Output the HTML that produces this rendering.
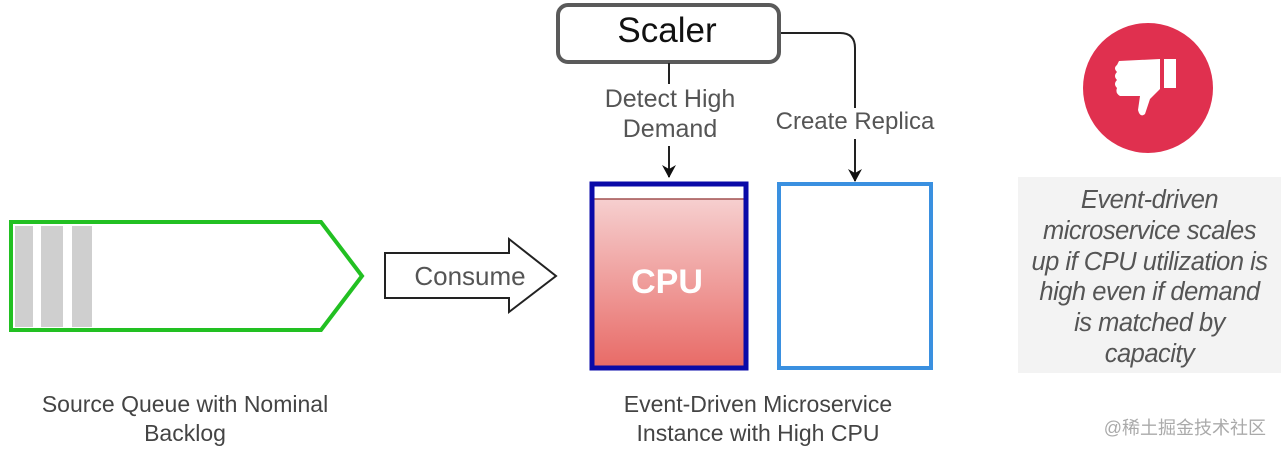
<!DOCTYPE html>
<html><head><meta charset="utf-8"><style>
body{margin:0;width:1281px;height:452px;background:#fff;overflow:hidden;position:relative;font-family:"Liberation Sans",sans-serif}
.t{position:absolute;text-align:center;color:#444;white-space:nowrap}
</style></head><body>
<svg width="1281" height="452" style="position:absolute;left:0;top:0">
<defs>
<linearGradient id="g" x1="0" y1="0" x2="0" y2="1"><stop offset="0" stop-color="#f6cfcf"/><stop offset="1" stop-color="#e86a66"/></linearGradient>
<marker id="a" markerWidth="16" markerHeight="16" refX="12" refY="7" orient="auto" markerUnits="userSpaceOnUse"><path d="M0,0 L13,7 L0,14 L4,7 Z" fill="#111"/></marker>
</defs>
<rect x="15" y="226" width="18" height="101" fill="#cfcfcf"/>
<rect x="41" y="226" width="22" height="101" fill="#cfcfcf"/>
<rect x="72" y="226" width="20" height="101" fill="#cfcfcf"/>
<polygon points="11,222 321,222 362,276 321,330 11,330" fill="none" stroke="#22c022" stroke-width="4"/>
<polygon points="385,253 509,253 509,239 556,276 509,312 509,298 385,298" fill="#fff" stroke="#222" stroke-width="2"/>
<rect x="558" y="5" width="221" height="57" rx="10" fill="#fff" stroke="#5a5a5a" stroke-width="4"/>
<line x1="669" y1="63" x2="669" y2="84" stroke="#222" stroke-width="2"/>
<line x1="669" y1="146" x2="669" y2="177" stroke="#222" stroke-width="2" marker-end="url(#a)"/>
<path d="M781,33 L840,33 Q855,33 855,48 L855,108" fill="none" stroke="#222" stroke-width="2"/>
<line x1="855" y1="139" x2="855" y2="181" stroke="#222" stroke-width="2" marker-end="url(#a)"/>
<rect x="592" y="184" width="154" height="184" fill="#fff"/>
<rect x="592" y="199" width="154" height="169" fill="url(#g)"/>
<line x1="592" y1="199" x2="746" y2="199" stroke="#a05050" stroke-width="1.5"/>
<rect x="592" y="184" width="154" height="184" fill="none" stroke="#0a0aa8" stroke-width="5"/>
<rect x="779" y="184" width="152" height="184" fill="#fff" stroke="#3a90e0" stroke-width="4"/>
<circle cx="1148" cy="88" r="65" fill="#e0304f"/>
<rect x="1164" y="59" width="12" height="29" fill="#fff"/>
<path d="M1119,61 L1160,59 L1160,89 L1150,99 L1145,114 Q1140,118 1138,110 L1140,96 L1120,96 Q1115,93 1117,88 Q1113,84 1117,80 Q1113,76 1117,72 Q1113,68 1117,65 Z" fill="#fff"/>
<rect x="1018" y="177" width="263" height="196" fill="#f3f3f3"/>
</svg>
<div class="t" style="left:592px;top:11px;width:150px;font-size:35px;color:#111;line-height:40px">Scaler</div>
<div class="t" style="left:570px;top:84px;width:200px;font-size:25px;line-height:30px;color:#555">Detect High<br>Demand</div>
<div class="t" style="left:755px;top:108px;width:200px;font-size:24px;line-height:28px;color:#555;background:#fff">Create Replica</div>
<div class="t" style="left:395px;top:261px;width:150px;font-size:26px;color:#555">Consume</div>
<div class="t" style="left:592px;top:263px;width:150px;font-size:34px;font-weight:bold;color:#fff">CPU</div>
<div class="t" style="left:1018px;top:185px;width:263px;font-size:25.5px;line-height:30.8px;font-style:italic;color:#555;letter-spacing:-0.5px">Event-driven<br>microservice scales<br>up if CPU utilization is<br>high even if demand<br>is matched by<br>capacity</div>
<div class="t" style="left:10px;top:390px;width:350px;font-size:23px;line-height:29px">Source Queue with Nominal<br>Backlog</div>
<div class="t" style="left:578px;top:390px;width:360px;font-size:23px;line-height:29px">Event-Driven Microservice<br>Instance with High CPU</div>
<div class="t" style="left:1086px;top:414px;width:180px;text-align:right;font-size:18px;color:#aaa;font-family:'Liberation Sans','Noto Sans CJK SC',sans-serif">@稀土掘金技术社区</div>
</body></html>
